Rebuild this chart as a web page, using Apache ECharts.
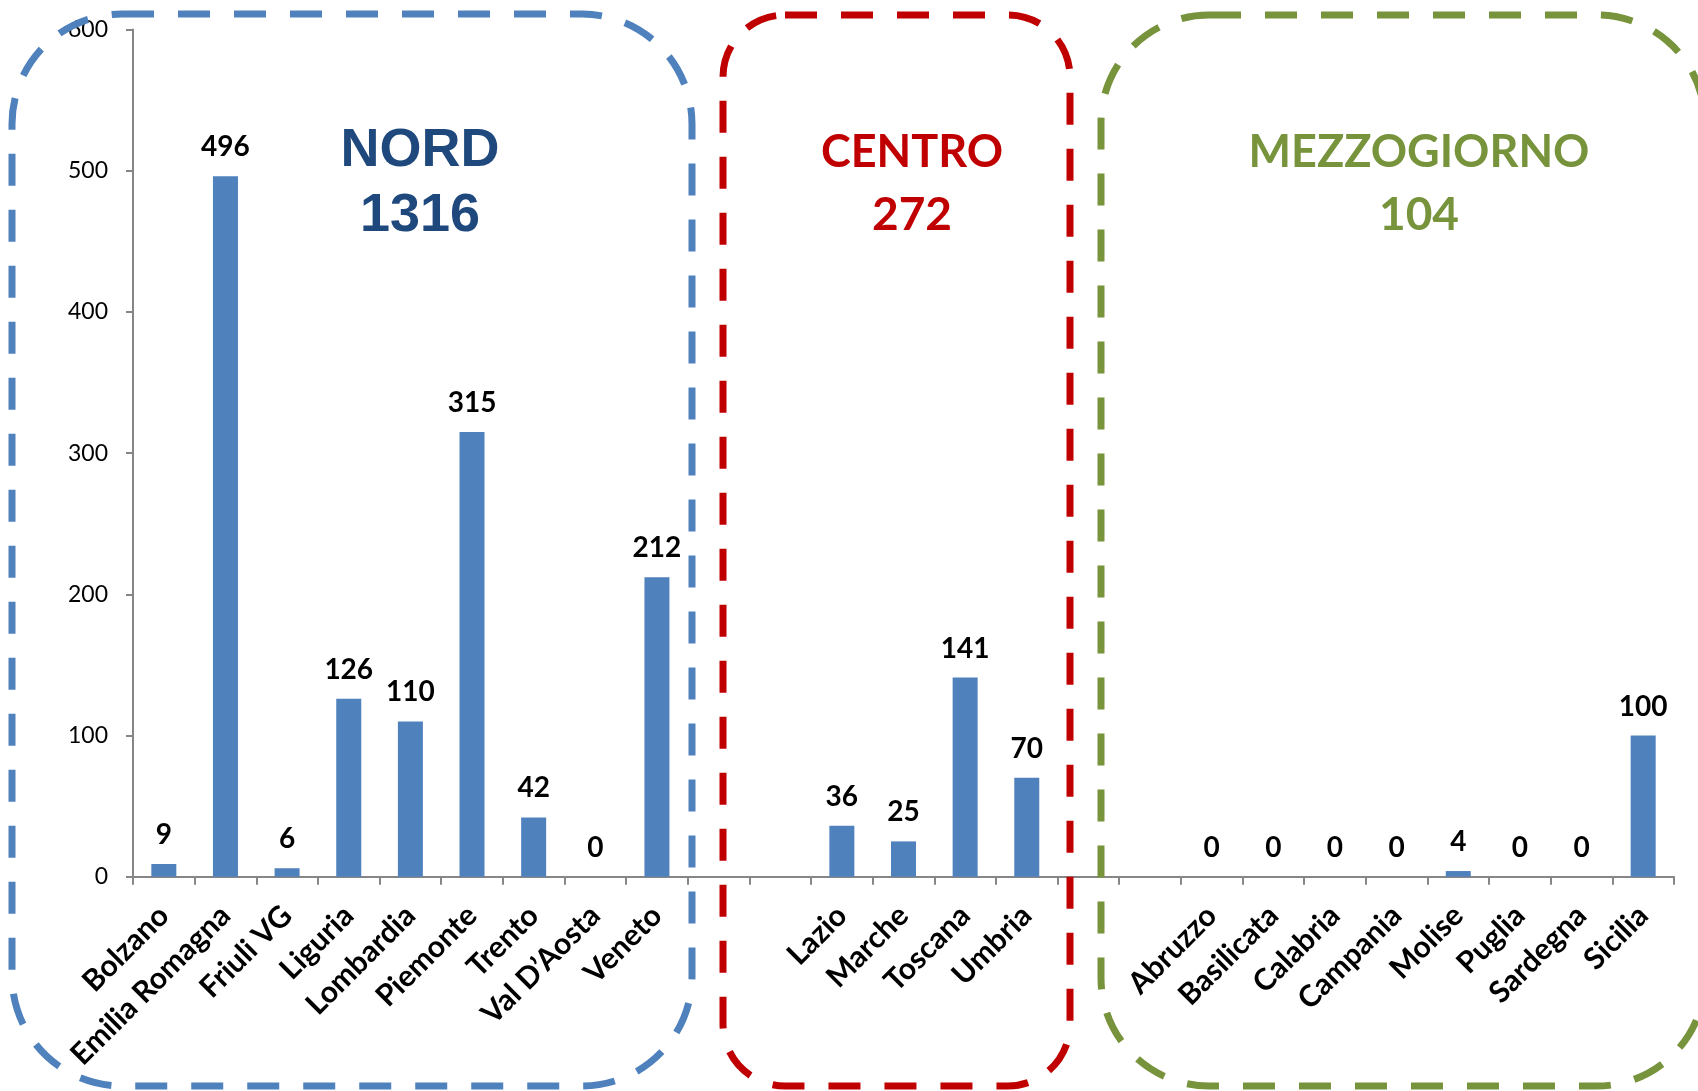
<!DOCTYPE html>
<html>
<head>
<meta charset="utf-8">
<title>Regioni</title>
<script src="https://cdn.jsdelivr.net/npm/echarts@6/dist/echarts.min.js"></script>
<style>
  html, body { margin: 0; padding: 0; background: #ffffff; }
  #chart { width: 1698px; height: 1091px; }
</style>
</head>
<body>
<div id="chart"></div>
<script>
// Regions and counts, grouped by macro-area
const nordRegions = ['Bolzano', 'Emilia Romagna', 'Friuli VG', 'Liguria', 'Lombardia', 'Piemonte', 'Trento', "Val D\u2019Aosta", 'Veneto'];
const nordValues = [9, 496, 6, 126, 110, 315, 42, 0, 212];

const centroRegions = ['Lazio', 'Marche', 'Toscana', 'Umbria'];
const centroValues = [36, 25, 141, 70];

const sudRegions = ['Abruzzo', 'Basilicata', 'Calabria', 'Campania', 'Molise', 'Puglia', 'Sardegna', 'Sicilia'];
const sudValues = [0, 0, 0, 0, 4, 0, 0, 100];

const areaNames = ['NORD', 'CENTRO', 'MEZZOGIORNO'];
const yTicks = [0, 100, 200, 300, 400, 500, 600];

// two empty slots separate the areas on the category axis
const gap = ['', ''];
const gapValues = [null, null];

const categories = [].concat(nordRegions, gap, centroRegions, gap, sudRegions);
const values = [].concat(nordValues, gapValues, centroValues, gapValues, sudValues);

const sum = arr => arr.reduce((a, b) => a + b, 0);
const totals = [sum(nordValues), sum(centroValues), sum(sudValues)];

const BLUE = '#4F81BD';
const NAVY = '#1F497D';
const RED = '#C00000';
const GREEN = '#77933C';
const AXIS = '#868686';
const LABEL_FONT = 'Lato, "Open Sans", sans-serif';
const ARIAL = '"Liberation Sans", Arial, sans-serif';

function dashedBox(x, y, w, h, r, color) {
  return {
    type: 'rect',
    z: 100,
    silent: true,
    shape: { x: x, y: y, width: w, height: h, r: r },
    style: { fill: 'none', stroke: color, lineWidth: 7, lineDash: [32, 24] }
  };
}

function areaText(text, cx, cy, color, family, size) {
  return {
    type: 'text',
    z: 100,
    silent: true,
    style: {
      text: text,
      x: cx,
      y: cy,
      fill: color,
      fontFamily: family,
      fontWeight: 'bold',
      fontSize: size,
      align: 'center',
      verticalAlign: 'middle'
    }
  };
}

const chart = echarts.init(document.getElementById('chart'), null, { renderer: 'canvas' });

chart.setOption({
  animation: false,
  backgroundColor: '#ffffff',
  grid: { left: 133, right: 24, top: 29.5, bottom: 214.3, containLabel: false },
  xAxis: {
    type: 'category',
    data: categories,
    axisLine: { show: true, lineStyle: { color: AXIS, width: 2 } },
    axisTick: { show: true, length: 8, lineStyle: { color: AXIS, width: 2 } },
    axisLabel: {
      interval: 0,
      rotate: 45,
      margin: 34,
      color: '#000000',
      fontFamily: LABEL_FONT,
      fontWeight: 'bold',
      fontSize: 30
    }
  },
  yAxis: {
    type: 'value',
    min: yTicks[0],
    max: yTicks[yTicks.length - 1],
    interval: yTicks[1] - yTicks[0],
    splitLine: { show: false },
    axisLine: { show: true, lineStyle: { color: AXIS, width: 2 } },
    axisTick: { show: true, length: 7, lineStyle: { color: AXIS, width: 2 } },
    axisLabel: {
      margin: 25,
      color: '#000000',
      fontFamily: LABEL_FONT,
      fontSize: 23
    }
  },
  series: [{
    type: 'bar',
    data: values,
    barWidth: 25,
    itemStyle: { color: BLUE },
    label: {
      show: true,
      position: 'top',
      distance: 15,
      color: '#000000',
      fontFamily: LABEL_FONT,
      fontWeight: 'bold',
      fontSize: 28
    }
  }],
  graphic: [
    dashedBox(12, 14, 680, 1072, 110, BLUE),
    dashedBox(723, 15, 347, 1071, 62, RED),
    dashedBox(1101, 15, 604, 1071, 108, GREEN),
    areaText(areaNames[0], 420, 151, NAVY, ARIAL, 54),
    areaText(String(totals[0]), 420, 216, NAVY, ARIAL, 54),
    areaText(areaNames[1], 912, 152, RED, LABEL_FONT, 45),
    areaText(String(totals[1]), 912, 215, RED, LABEL_FONT, 46),
    areaText(areaNames[2], 1419, 152, GREEN, LABEL_FONT, 45),
    areaText(String(totals[2]), 1419, 215, GREEN, LABEL_FONT, 46)
  ]
});
</script>
</body>
</html>
